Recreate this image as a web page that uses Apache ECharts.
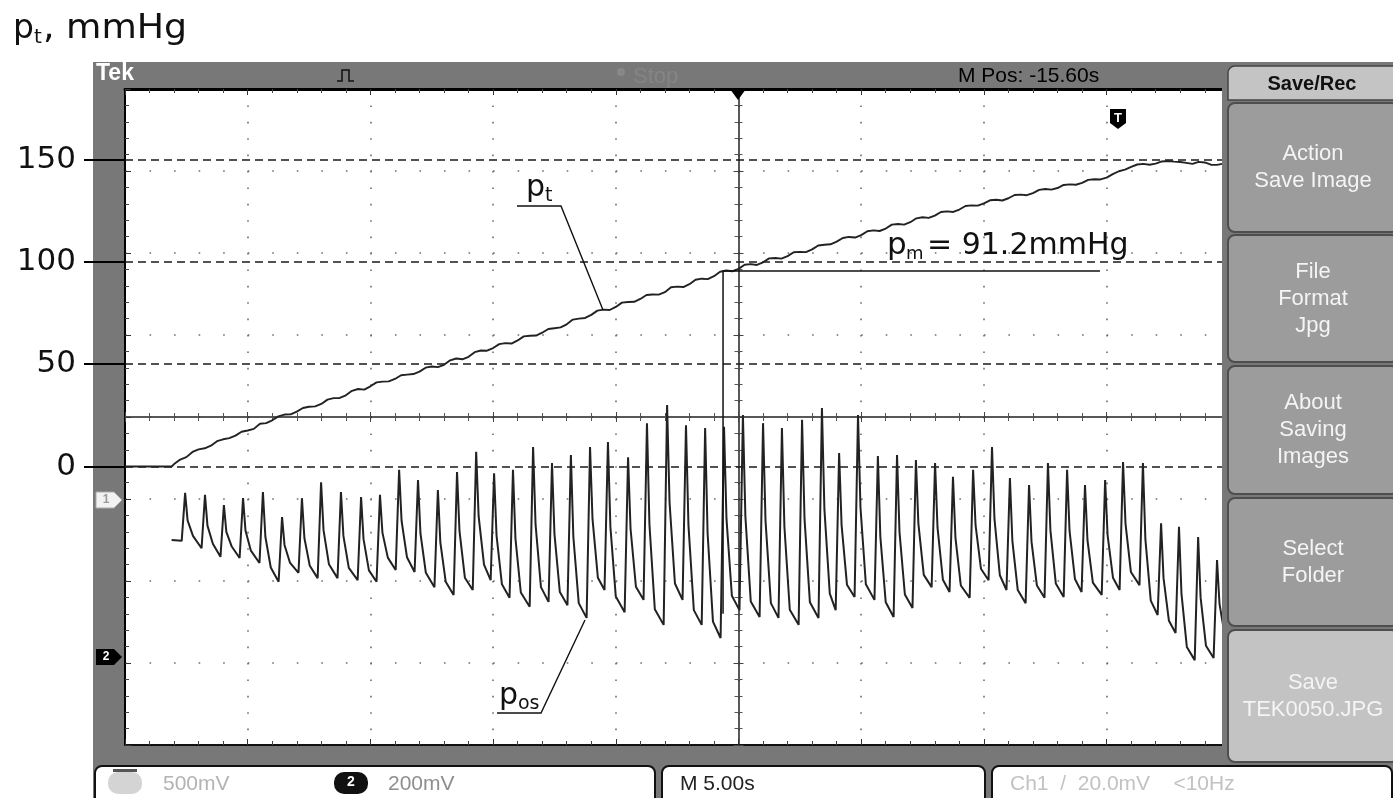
<!DOCTYPE html>
<html>
<head>
<meta charset="utf-8">
<script src="https://cdn.jsdelivr.net/npm/echarts@6/dist/echarts.min.js"></script>
<style>
  html, body { margin: 0; padding: 0; background: #fff; }
  #chart { width: 1393px; height: 798px; }
</style>
</head>
<body>
<div id="chart"></div>
<script>
// cuff pressure p_t (mmHg) against time (s from left edge of screen)
const ptTime = [0, 1.9, 2.0, 2.25, 2.5, 2.75, 3.0, 3.25, 3.5, 3.75, 4.0, 4.25, 4.5, 4.75, 5.0, 5.25, 5.5, 5.75,
  6.0, 6.25, 6.5, 6.75, 7.0, 7.25, 7.5, 7.75, 8.0, 8.25, 8.5, 8.75, 9.0, 9.25, 9.5, 9.75,
  10.0, 10.25, 10.5, 10.75, 11.0, 11.25, 11.5, 11.75, 12.0, 12.25, 12.5, 12.75, 13.0, 13.25, 13.5, 13.75,
  14.0, 14.25, 14.5, 14.75, 15.0, 15.25, 15.5, 15.75, 16.0, 16.25, 16.5, 16.75, 17.0, 17.25, 17.5, 17.75,
  18.0, 18.25, 18.5, 18.75, 19.0, 19.25, 19.5, 19.75, 20.0, 20.25, 20.5, 20.75, 21.0, 21.25, 21.5, 21.75,
  22.0, 22.25, 22.5, 22.75, 23.0, 23.25, 23.5, 23.75, 24.0, 24.25, 24.5, 24.75, 25.0, 25.25, 25.5, 25.75,
  26.0, 26.25, 26.5, 26.75, 27.0, 27.25, 27.5, 27.75, 28.0, 28.25, 28.5, 28.75, 29.0, 29.25, 29.5, 29.75,
  30.0, 30.25, 30.5, 30.75, 31.0, 31.25, 31.5, 31.75, 32.0, 32.25, 32.5, 32.75, 33.0, 33.25, 33.5, 33.75,
  34.0, 34.25, 34.5, 34.75, 35.0, 35.25, 35.5, 35.75, 36.0, 36.25, 36.5, 36.75, 37.0, 37.25, 37.5, 37.75,
  38.0, 38.25, 38.5, 38.75, 39.0, 39.25, 39.5, 39.75, 40.0, 40.25, 40.5, 40.75, 41.0, 41.25, 41.5, 41.75,
  42.0, 42.25, 42.5, 42.75, 43.0, 43.25, 43.5, 43.75, 44.0, 44.25, 44.5, 44.75]
const ptValue = [0, 0, 1.2, 3.4, 4.6, 7.1, 8.4, 8.9, 10.2, 12.4, 13.3, 13.9, 15.1, 17.0, 17.6, 18.4, 20.9, 21.2,
  22.6, 24.5, 25.4, 25.5, 26.8, 28.6, 29.2, 29.4, 30.6, 32.7, 33.4, 33.5, 34.8, 37.0, 37.9, 37.6,
  39.2, 41.1, 41.5, 41.6, 42.8, 44.6, 44.9, 45.2, 46.4, 48.3, 48.9, 48.6, 49.7, 51.9, 52.8, 52.4,
  53.6, 55.9, 56.7, 56.6, 57.9, 59.8, 60.3, 60.1, 61.6, 63.6, 63.9, 64.0, 65.4, 67.2, 67.6, 68.0,
  69.5, 71.8, 72.3, 72.6, 74.1, 76.2, 76.7, 76.5, 78.0, 80.1, 80.4, 80.5, 81.9, 83.8, 84.1, 84.0,
  85.2, 87.6, 87.9, 87.7, 89.1, 91.3, 91.8, 91.6, 93.0, 95.2, 95.8, 95.4, 96.6, 98.6, 98.9, 98.5,
  99.8, 101.7, 101.9, 101.6, 102.8, 104.7, 104.9, 104.8, 106.1, 108.0, 108.4, 108.6, 109.9, 111.7, 112.2, 111.9,
  113.1, 115.0, 115.4, 115.1, 116.3, 118.2, 118.5, 118.2, 119.4, 121.3, 121.8, 121.5, 122.6, 124.4, 124.7, 124.4,
  125.6, 127.3, 127.6, 127.5, 128.6, 130.1, 130.4, 130.0, 131.1, 132.7, 132.9, 132.6, 133.6, 135.2, 135.6, 135.3,
  136.1, 137.6, 137.9, 137.7, 138.6, 140.1, 140.4, 140.3, 141.2, 142.9, 144.3, 145.1, 146.4, 147.6, 147.9, 147.5,
  148.0, 149.1, 149.3, 149.0, 148.8, 148.4, 147.9, 148.9, 148.6, 147.5, 147.4, 148.0]

// oscillation signal p_os (ch2, mV above ch2 ground), one entry per heart beat
const osPeakTime = [2.45, 3.26, 4.03, 4.81, 5.62, 6.40, 7.21, 7.99, 8.80, 9.62, 10.39, 11.17, 11.94, 12.75,
  13.53, 14.31, 15.04, 15.81, 16.63, 17.40, 18.17, 18.95, 19.68, 20.50, 21.27, 22.09, 22.86, 23.64,
  24.41, 25.18, 26.00, 26.77, 27.59, 28.40, 29.10, 29.87, 30.68, 31.46, 32.23, 33.01, 33.74, 34.56,
  35.33, 36.06, 36.84, 37.61, 38.39, 39.12, 39.94, 40.67, 41.48, 42.22, 42.95, 43.73, 44.50]
const osPeak = [415, 410, 385, 402, 417, 356, 402, 441, 417, 405, 410, 471, 446, 422,
  466, 515, 463, 471, 527, 488, 507, 527, 539, 502, 585, 629, 580, 573,
  576, 605, 585, 573, 593, 622, 512, 605, 505, 507, 495, 488, 454, 471,
  527, 451, 434, 488, 471, 434, 446, 490, 488, 341, 332, 307, 251]
// lowest point just before each upstroke
const osTrough = [298, 280, 259, 256, 244, 198, 220, 207, 207, 202, 198, 227, 222, 185,
  166, 178, 202, 159, 137, 149, 141, 110, 178, 124, 154, 93, 154, 93,
  61, 129, 112, 110, 93, 110, 129, 161, 154, 112, 134, 185, 173, 159,
  202, 178, 146, 159, 161, 173, 166, 178, 190, 117, 73, 7, 12]
// dicrotic shoulder just after each peak
const osShoulder = [348, 335, 320, 323, 308, 288, 305, 324, 310, 302, 318, 347, 316, 294,
  322, 358, 311, 304, 338, 315, 308, 352, 332, 328, 339, 392, 337, 317,
  352, 358, 348, 333, 352, 376, 337, 380, 308, 320, 340, 330, 306, 336,
  352, 298, 296, 324, 322, 300, 312, 340, 302, 207, 170, 160, 145]
// end of the fast fall, where the rounded bottom begins
const osKnee = [310, 291, 284, 274, 233, 245, 237, 241, 232, 226, 257, 258, 220, 198,
  208, 240, 192, 172, 185, 173, 146, 208, 162, 186, 131, 194, 129, 101,
  164, 150, 146, 130, 148, 169, 191, 192, 148, 167, 215, 203, 189, 230,
  214, 178, 189, 194, 205, 196, 208, 222, 152, 103, 39, 42, 65]
const osStart = [1.9, 300]

const pressureTicks = [0, 50, 100, 150]

// mean pressure marker
const pmTime = 24.37
const pmLevel = 95.5
const pmLineEnd = 39.73
const pmDrop = -72

const osData = [osStart]
osPeakTime.forEach((t, i) => {
  osData.push([t - 0.14, osTrough[i]])
  osData.push([t, osPeak[i]])
  osData.push([t + 0.1, osShoulder[i]])
  osData.push([t + 0.32, osKnee[i]])
})

const ptData = ptTime.map((t, i) => [t, ptValue[i]])
const pmData = [[pmLineEnd, pmLevel], [pmTime, pmLevel], [pmTime, pmDrop]]

const FONT = 'Liberation Sans, Arial, sans-serif'
const WIDE = 'DejaVu Sans, sans-serif'
const GRID_DOTS = '#6e6e6e'

const chart = echarts.init(document.getElementById('chart'))

function txt(text, x, y, size, fill, family, extra) {
  return {
    type: 'text', z: 60,
    style: Object.assign({ text, x, y, fill, fontSize: size, fontFamily: family || FONT, textVerticalAlign: 'middle' }, extra || {})
  }
}

const menuButtons = [
  { y: 103, h: 129, lines: ['Action', 'Save Image'], fill: '#9c9c9c' },
  { y: 235, h: 127, lines: ['File', 'Format', 'Jpg'], fill: '#9c9c9c' },
  { y: 366, h: 128, lines: ['About', 'Saving', 'Images'], fill: '#9c9c9c' },
  { y: 498, h: 128, lines: ['Select', 'Folder'], fill: '#9c9c9c' },
  { y: 630, h: 132, lines: ['Save', 'TEK0050.JPG'], fill: '#c3c3c3' }
]

const graphics = [
  { type: 'rect', z: -10, shape: { x: 93, y: 62, width: 1300, height: 736 }, style: { fill: '#787878' } },
  // top bar
  txt('Tek', 96, 74, 23, '#fff', FONT, { fontWeight: 'bold' }),
  { type: 'polyline', z: 60, shape: { points: [[337, 81], [342, 81], [342, 70], [349, 70], [349, 81], [354, 81]] }, style: { stroke: '#111', lineWidth: 1.5, fill: null } },
  { type: 'circle', z: 60, shape: { cx: 621, cy: 72, r: 4 }, style: { fill: '#888' } },
  txt('Stop', 633, 77, 22, '#858585'),
  txt('M Pos: -15.60s', 958, 76, 21, '#000'),
  // trigger markers
  { type: 'polygon', z: 60, shape: { points: [[730, 89], [746, 89], [738, 100]] }, style: { fill: '#000' } },
  { type: 'polygon', z: 60, shape: { points: [[1110, 109], [1126, 109], [1126, 123], [1118, 129], [1110, 123]] }, style: { fill: '#000' } },
  txt('T', 1118, 118, 13, '#fff', FONT, { fontWeight: 'bold', textAlign: 'center' }),
  // channel markers
  { type: 'polygon', z: 60, shape: { points: [[96, 492], [114, 492], [122, 500], [114, 508], [96, 508]] }, style: { fill: '#f2f2f2', stroke: '#aaa' } },
  txt('1', 106, 500, 12, '#999', FONT, { fontWeight: 'bold', textAlign: 'center' }),
  { type: 'polygon', z: 60, shape: { points: [[96, 649], [114, 649], [122, 657], [114, 665], [96, 665]] }, style: { fill: '#000' } },
  txt('2', 106, 657, 12, '#fff', FONT, { fontWeight: 'bold', textAlign: 'center' }),
  // right menu
  { type: 'rect', z: 50, shape: { x: 1222, y: 62, width: 171, height: 736 }, style: { fill: '#787878' } },
  { type: 'rect', z: 51, shape: { x: 1228, y: 66, width: 170, height: 34, r: [7, 0, 0, 0] }, style: { fill: '#c4c4c4', stroke: '#444', lineWidth: 1.5 } },
  txt('Save/Rec', 1312, 84, 20, '#111', FONT, { fontWeight: 'bold', textAlign: 'center' }),
  // status bar
  { type: 'rect', z: 51, shape: { x: 95, y: 766, width: 560, height: 40, r: 7 }, style: { fill: '#fff', stroke: '#111', lineWidth: 2 } },
  { type: 'rect', z: 51, shape: { x: 662, y: 766, width: 323, height: 40, r: 7 }, style: { fill: '#fff', stroke: '#111', lineWidth: 2 } },
  { type: 'rect', z: 51, shape: { x: 992, y: 766, width: 400, height: 40, r: 7 }, style: { fill: '#fff', stroke: '#111', lineWidth: 2 } },
  { type: 'rect', z: 52, shape: { x: 108, y: 772, width: 34, height: 22, r: 10 }, style: { fill: '#d4d4d4' } },
  { type: 'rect', z: 53, shape: { x: 113, y: 769, width: 24, height: 3 }, style: { fill: '#555' } },
  txt('500mV', 163, 784, 21, '#b3b3b3'),
  { type: 'rect', z: 52, shape: { x: 334, y: 772, width: 34, height: 22, r: 10 }, style: { fill: '#111' } },
  txt('2', 351, 782, 14, '#fff', FONT, { fontWeight: 'bold', textAlign: 'center' }),
  txt('200mV', 388, 784, 21, '#8e8e8e'),
  txt('M 5.00s', 680, 784, 21, '#222'),
  txt('Ch1  /  20.0mV    <10Hz', 1010, 784, 21, '#c2c2c2'),
  // chart annotations
  txt('p', 13, 29, 33, '#111', WIDE),
  txt('t', 34, 38, 20, '#111', WIDE),
  { type: 'text', z: 60, x: 43, y: 29, scaleX: 1.1, style: { text: ', mmHg', x: 0, y: 0, fill: '#111', fontSize: 33, fontFamily: WIDE, textVerticalAlign: 'middle' } },
  txt('p', 526, 188, 30, '#111', WIDE),
  txt('t', 545, 196, 19, '#111', WIDE),
  { type: 'polyline', z: 60, shape: { points: [[517, 206], [561, 206], [603, 310]] }, style: { stroke: '#111', lineWidth: 1.4, fill: null } },
  txt('p', 499, 696, 30, '#111', WIDE),
  txt('os', 518, 704, 19, '#111', WIDE),
  { type: 'polyline', z: 60, shape: { points: [[497, 713], [541, 713], [585, 620]] }, style: { stroke: '#111', lineWidth: 1.4, fill: null } },
  txt('p', 887, 246, 31, '#111', WIDE),
  txt('m', 906, 254, 18, '#111', WIDE),
  txt('= 91.2mmHg', 927, 246, 30, '#111', WIDE)
]

menuButtons.forEach(b => {
  graphics.push({ type: 'rect', z: 51, shape: { x: 1228, y: b.y, width: 170, height: b.h, r: 7 }, style: { fill: b.fill, stroke: '#4e4e4e', lineWidth: 2 } })
  const lh = 27
  const y0 = b.y + b.h / 2 - (b.lines.length - 1) * lh / 2
  b.lines.forEach((line, i) => {
    graphics.push(txt(line, 1313, y0 + i * lh, 22, '#f4f4f4', FONT, { textAlign: 'center' }))
  })
})

const hiddenLabel = { show: false }

chart.setOption({
  animation: false,
  backgroundColor: '#fff',
  grid: { left: 125, top: 89, width: 1227, height: 656, show: true, backgroundColor: '#fff', borderWidth: 0 },
  xAxis: [
    { // time axis, bottom frame + vertical graticule
      type: 'value', min: 0, max: 50, interval: 5, position: 'bottom',
      axisLine: { onZero: false, lineStyle: { color: '#111', width: 2 } },
      axisTick: { inside: true, length: 6, lineStyle: { color: '#333' } },
      minorTick: { show: true, splitNumber: 5, length: 4, lineStyle: { color: '#444' } },
      axisLabel: hiddenLabel,
      splitLine: { show: true, lineStyle: { color: GRID_DOTS, width: 1.6, type: [1.6, 14.8] } }
    },
    { // top frame
      type: 'value', min: 0, max: 50, interval: 5, position: 'top',
      axisLine: { onZero: false, lineStyle: { color: '#000', width: 3 } },
      axisTick: { inside: true, length: 6, lineStyle: { color: '#333' } },
      minorTick: { show: true, splitNumber: 5, length: 4, lineStyle: { color: '#444' } },
      axisLabel: hiddenLabel, splitLine: { show: false }
    },
    { // horizontal centre line, ticks upwards
      type: 'value', min: 0, max: 50, interval: 5, position: 'bottom',
      axisLine: { onZero: true, onZeroAxisIndex: 0, lineStyle: { color: '#222', width: 1.5 } },
      axisTick: { inside: true, length: 5, lineStyle: { color: '#444' } },
      minorTick: { show: true, splitNumber: 5, length: 4, lineStyle: { color: '#555' } },
      axisLabel: hiddenLabel, splitLine: { show: false }
    },
    { // horizontal centre line, ticks downwards
      type: 'value', min: 0, max: 50, interval: 5, position: 'top',
      axisLine: { show: false, onZero: true, onZeroAxisIndex: 0 },
      axisTick: { inside: true, length: 5, lineStyle: { color: '#444' } },
      minorTick: { show: true, splitNumber: 5, length: 4, lineStyle: { color: '#555' } },
      axisLabel: hiddenLabel, splitLine: { show: false }
    },
    { // screen divisions, only used to find the centre
      type: 'value', min: -5, max: 5, show: false, axisLine: { onZero: false }
    }
  ],
  yAxis: [
    { // divisions, left frame + horizontal graticule
      type: 'value', min: -4, max: 4, interval: 1, position: 'left',
      axisLine: { show: true, onZero: false, lineStyle: { color: '#000', width: 2 } },
      axisTick: { show: true, inside: true, length: 6, lineStyle: { color: '#333' } },
      minorTick: { show: true, splitNumber: 5, length: 4, lineStyle: { color: '#444' } },
      axisLabel: hiddenLabel,
      splitLine: { show: true, lineStyle: { color: GRID_DOTS, width: 1.6, type: [1.6, 22.94] } }
    },
    { // pressure scale
      type: 'value', min: -136.1, max: 184.5, position: 'left',
      axisLine: { show: false, onZero: false },
      axisTick: { show: true, customValues: pressureTicks, length: 41, lineStyle: { color: '#000', width: 2 } },
      axisLabel: { show: true, customValues: pressureTicks, fontSize: 31, color: '#111', margin: 49, fontFamily: WIDE },
      splitLine: { show: false }
    },
    { // vertical centre line, ticks right
      type: 'value', min: -4, max: 4, interval: 1, position: 'left',
      axisLine: { show: true, onZero: true, onZeroAxisIndex: 4, lineStyle: { color: '#222', width: 1.5 } },
      axisTick: { show: true, inside: true, length: 5, lineStyle: { color: '#444' } },
      minorTick: { show: true, splitNumber: 5, length: 4, lineStyle: { color: '#555' } },
      axisLabel: hiddenLabel, splitLine: { show: false }
    },
    { // vertical centre line, ticks left
      type: 'value', min: -4, max: 4, interval: 1, position: 'right',
      axisLine: { show: false, onZero: true, onZeroAxisIndex: 4 },
      axisTick: { show: true, inside: true, length: 5, lineStyle: { color: '#444' } },
      minorTick: { show: true, splitNumber: 5, length: 4, lineStyle: { color: '#555' } },
      axisLabel: hiddenLabel, splitLine: { show: false }
    },
    { // ch2 oscillation scale, mV
      type: 'value', min: -200, max: 1400, show: false, axisLine: { onZero: false }
    }
  ],
  graphic: graphics,
  series: [
    {
      name: 'pt', type: 'line', xAxisIndex: 0, yAxisIndex: 1, data: ptData,
      showSymbol: false, symbol: 'none', z: 5,
      lineStyle: { color: '#222', width: 1.9 },
      markLine: {
        silent: true, symbol: 'none', label: { show: false },
        lineStyle: { color: '#1a1a1a', width: 1.6, type: [8, 5] },
        data: pressureTicks.map(v => ({ yAxis: v }))
      }
    },
    {
      name: 'pos', type: 'line', xAxisIndex: 0, yAxisIndex: 4, data: osData,
      showSymbol: false, symbol: 'none', z: 5,
      lineStyle: { color: '#222', width: 2 }
    },
    {
      name: 'pm', type: 'line', xAxisIndex: 0, yAxisIndex: 1, data: pmData,
      showSymbol: false, symbol: 'none', z: 6,
      lineStyle: { color: '#111', width: 1.5 }
    }
  ]
})
</script>
</body>
</html>
